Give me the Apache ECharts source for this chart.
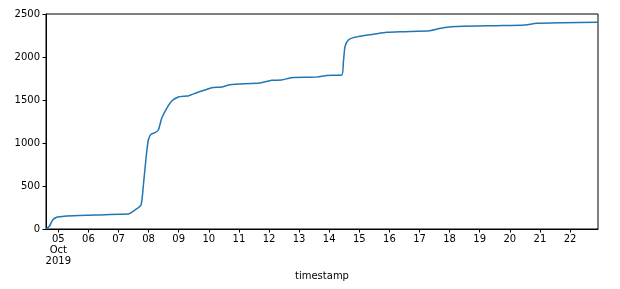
<!DOCTYPE html>
<html>
<head>
<meta charset="utf-8">
<script src="https://cdn.jsdelivr.net/npm/echarts@6/dist/echarts.min.js"></script>
<style>
html,body{margin:0;padding:0;background:#fff;}
#chart{width:620px;height:289px;}
</style>
</head>
<body>
<div id="chart"></div>
<script>
var timestamps = [
  "2019-10-04 14:10","2019-10-04 17:00","2019-10-04 19:30","2019-10-04 22:40",
  "2019-10-05 01:30","2019-10-05 06:40","2019-10-06 01:20","2019-10-06 09:10",
  "2019-10-07 01:10","2019-10-07 07:50","2019-10-07 13:10","2019-10-07 17:55",
  "2019-10-07 19:50","2019-10-07 21:55","2019-10-07 23:45","2019-10-08 01:55",
  "2019-10-08 05:05","2019-10-08 07:45","2019-10-08 10:25","2019-10-08 14:25",
  "2019-10-08 18:25","2019-10-08 23:40","2019-10-09 05:00","2019-10-09 07:40",
  "2019-10-09 14:20","2019-10-09 21:00","2019-10-10 02:20","2019-10-10 10:20",
  "2019-10-10 16:55","2019-10-11 16:50","2019-10-12 02:10","2019-10-12 10:05",
  "2019-10-12 18:05","2019-10-13 14:00","2019-10-13 22:00","2019-10-14 10:00",
  "2019-10-14 11:15","2019-10-14 12:35","2019-10-14 15:15","2019-10-14 19:15",
  "2019-10-15 03:10","2019-10-15 11:05","2019-10-15 21:50","2019-10-16 11:05",
  "2019-10-17 08:25","2019-10-17 19:00","2019-10-18 10:55","2019-10-19 13:30",
  "2019-10-20 12:05","2019-10-20 21:25","2019-10-21 18:35","2019-10-22 22:20"
];
var values = [
  0, 35, 105, 136,
  143, 151, 160, 163,
  172, 174, 221, 279,
  512, 822, 1035, 1101,
  1120, 1151, 1287, 1403,
  1488, 1535, 1545, 1547,
  1585, 1616, 1643, 1651,
  1678, 1698, 1729, 1733,
  1760, 1766, 1785, 1791,
  1930, 2120, 2198, 2225,
  2248, 2264, 2287, 2295,
  2306, 2341, 2357, 2364,
  2372, 2392, 2399, 2405
];
var tickDays = [5,6,7,8,9,10,11,12,13,14,15,16,17,18,19,20,21,22];
var yTicks = [0, 500, 1000, 1500, 2000, 2500];

function parseT(s){
  var p = s.split(/[- :]/).map(Number);
  return Date.UTC(p[0], p[1]-1, p[2], p[3], p[4]);
}
var data = timestamps.map(function(t, i){ return [parseT(t), values[i]]; });
var tickVals = tickDays.map(function(d){ return Date.UTC(2019, 9, d); });

var chart = echarts.init(document.getElementById('chart'));
chart.setOption({
  animation: false,
  backgroundColor: '#fff',
  grid: {left: 46, right: 22, top: 14, bottom: 60, show: true, borderColor: '#000', borderWidth: 1, containLabel: false},
  xAxis: {
    type: 'value',
    min: parseT("2019-10-04 14:10"),
    max: parseT("2019-10-22 22:20"),
    name: 'timestamp',
    nameLocation: 'middle',
    nameGap: 40,
    nameTextStyle: {color: '#000', fontSize: 10, fontFamily: 'DejaVu Sans'},
    axisLine: {show: true, lineStyle: {color: '#000', width: 1}},
    axisTick: {show: true, customValues: tickVals, length: 3.5, lineStyle: {color: '#000'}},
    axisLabel: {
      customValues: tickVals,
      color: '#000', fontSize: 10, fontFamily: 'DejaVu Sans', margin: 5, lineHeight: 11,
      formatter: function(v){
        var d = new Date(v);
        var day = d.getUTCDate();
        var dd = (day < 10 ? '0' : '') + day;
        if (day === 5) return dd + '\nOct\n2019';
        return dd;
      }
    },
    splitLine: {show: false}
  },
  yAxis: {
    type: 'value',
    min: yTicks[0], max: yTicks[yTicks.length-1], interval: 500,
    axisLine: {show: true, lineStyle: {color: '#000', width: 1}},
    axisTick: {show: true, length: 3.5, lineStyle: {color: '#000'}},
    axisLabel: {color: '#000', fontSize: 10, fontFamily: 'DejaVu Sans', margin: 6,
      formatter: function(v){ return String(v); }},
    splitLine: {show: false}
  },
  series: [{
    type: 'line',
    data: data,
    showSymbol: false,
    smooth: 0.2,
    lineStyle: {color: '#1f77b4', width: 1.5},
    itemStyle: {color: '#1f77b4'}
  }]
});
</script>
</body>
</html>
